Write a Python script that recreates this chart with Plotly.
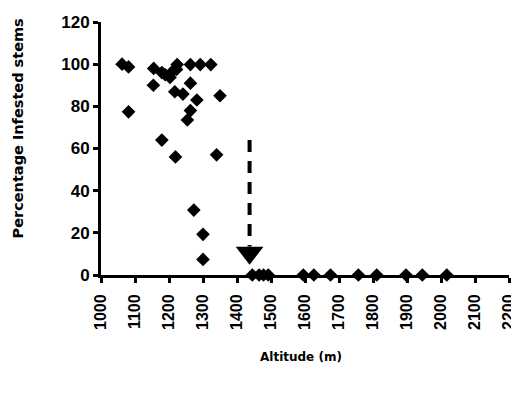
import plotly.graph_objects as go

# Infested stems data (altitude m, percentage)
altitude = [1062, 1081, 1081, 1155, 1154, 1179, 1189, 1203, 1213, 1224, 1222,
            1217, 1241, 1263, 1263, 1292, 1323, 1282, 1263, 1254, 1350, 1179,
            1219, 1340, 1273, 1300, 1300,
            1445, 1465, 1478, 1492, 1595, 1626, 1675, 1757, 1811, 1897, 1945, 2017]
percent = [100, 98.7, 77.4, 98, 90, 96, 95, 93.7, 97, 99.8, 97.5,
           86.9, 85.8, 91, 99.8, 99.8, 99.8, 83, 78, 73.5, 85, 64,
           56, 57, 30.8, 19.3, 7.4,
           0, 0, 0, 0, 0, 0, 0, 0, 0, 0, 0, 0]

x_ticks = [1000, 1100, 1200, 1300, 1400, 1500, 1600, 1700, 1800, 1900, 2000, 2100, 2200]
y_ticks = [0, 20, 40, 60, 80, 100, 120]

# Arrow marking the upper limit of infestation
arrow_x = 1437
arrow_top = 64
arrow_head = 10.5

TICKFONT = "Liberation Sans, Arial, sans-serif"
TITLEFONT = "DejaVu Sans, sans-serif"

fig = go.Figure()
fig.add_trace(go.Scatter(
    x=altitude, y=percent, mode="markers",
    marker=dict(symbol="diamond", size=10.5, color="black"),
    cliponaxis=False, showlegend=False, hoverinfo="skip"))

# dashed shaft
fig.add_trace(go.Scatter(
    x=[arrow_x, arrow_x], y=[arrow_top, arrow_head + 3], mode="lines",
    line=dict(color="black", width=4, dash="12px,9px"),
    showlegend=False, hoverinfo="skip"))
# head
fig.add_trace(go.Scatter(
    x=[arrow_x], y=[arrow_head], mode="markers",
    marker=dict(symbol="triangle-down", size=24, color="black"),
    showlegend=False, hoverinfo="skip"))

# The page body adds an 8px offset, so the figure is sized/margined to compensate.
fig.update_layout(
    width=511, height=390,
    margin=dict(l=93, r=10, t=14, b=123),
    paper_bgcolor="white", plot_bgcolor="white",
    font=dict(family=TICKFONT, color="black"),
    xaxis=dict(range=[1000, 2200], tickmode="array", tickvals=x_ticks,
               ticktext=[f"<b>{v}</b>" for v in x_ticks],
               tickangle=-90, tickfont=dict(size=16, family=TICKFONT),
               ticklabeloverflow="allow", ticklabelstandoff=5,
               showline=True, linecolor="black", linewidth=3,
               ticks="outside", ticklen=5, tickwidth=3, tickcolor="black",
               showgrid=False, zeroline=False, automargin=False),
    yaxis=dict(range=[0, 120], tickmode="array", tickvals=y_ticks,
               ticktext=[f"<b>{v}</b>" for v in y_ticks],
               tickfont=dict(size=17, family=TICKFONT),
               showline=True, linecolor="black", linewidth=3,
               ticks="outside", ticklen=5, tickwidth=3, tickcolor="black",
               showgrid=False, zeroline=False, automargin=False),
    annotations=[
        dict(text="<b>Percentage Infested stems</b>", textangle=-90,
             xref="paper", yref="paper", x=-0.203, y=0.58, xanchor="center",
             yanchor="middle", showarrow=False, font=dict(size=14.5, family=TITLEFONT)),
        dict(text="<b>Altitude (m)</b>", xref="paper", yref="paper",
             x=0.49, y=-0.324, xanchor="center", yanchor="middle",
             showarrow=False, font=dict(size=12, family=TITLEFONT)),
    ],
)

fig.write_html("out.html")
